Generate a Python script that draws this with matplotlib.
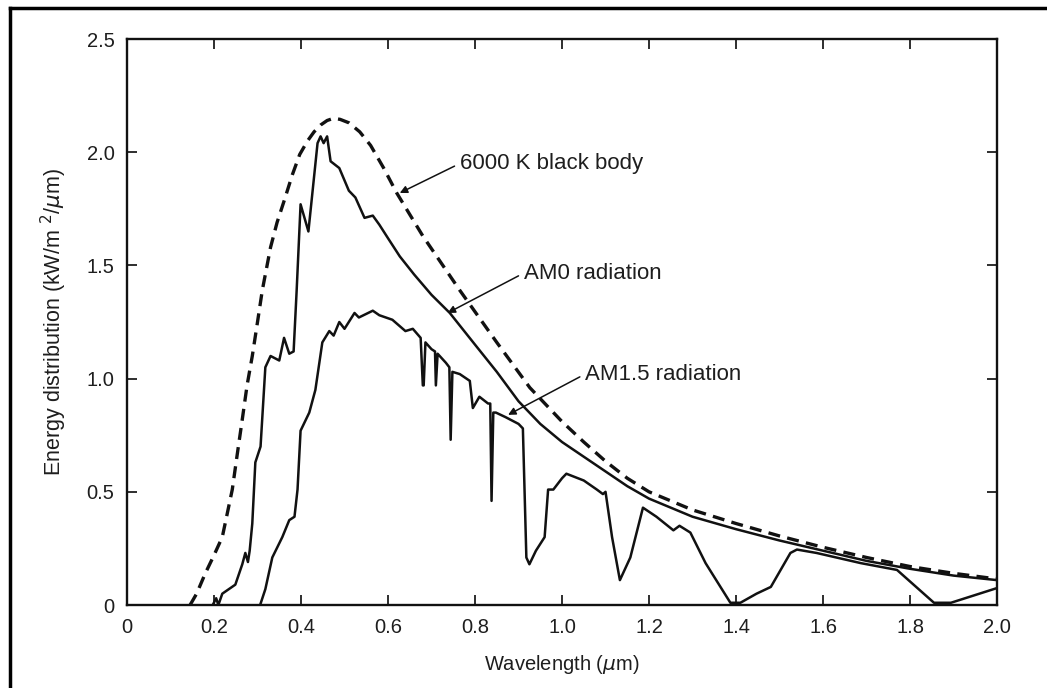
import matplotlib.pyplot as plt
from matplotlib.lines import Line2D

plt.rcParams['font.family'] = ['Liberation Sans', 'DejaVu Sans']

# 6000 K black body curve (kW/m^2/um)
bb_wl = [0.145, 0.16, 0.18, 0.20, 0.219, 0.23, 0.242, 0.253, 0.265, 0.276, 0.288,
         0.30, 0.311, 0.33, 0.345, 0.362, 0.38, 0.397, 0.415, 0.43, 0.445, 0.46,
         0.475, 0.49, 0.51, 0.535, 0.56, 0.59, 0.62, 0.68, 0.765, 0.85,
         0.926, 1.0, 1.05, 1.1, 1.15, 1.2, 1.3, 1.4, 1.5, 1.6, 1.7, 1.8, 1.9, 2.0]
bb_val = [0.0, 0.05, 0.14, 0.22, 0.30, 0.40, 0.51, 0.66, 0.82, 0.97, 1.10,
          1.25, 1.39, 1.58, 1.69, 1.79, 1.90, 1.99, 2.05, 2.09, 2.12, 2.14,
          2.15, 2.145, 2.13, 2.09, 2.03, 1.93, 1.82, 1.63, 1.39, 1.16,
          0.96, 0.81, 0.72, 0.635, 0.56, 0.50, 0.42, 0.36, 0.305, 0.255, 0.21, 0.17, 0.14, 0.115]

# extraterrestrial (AM0) spectrum
am0_wl = [0.197, 0.205, 0.21, 0.219, 0.249, 0.265, 0.272, 0.278, 0.282, 0.288,
          0.295, 0.307, 0.318, 0.33, 0.35, 0.361, 0.373, 0.383, 0.39, 0.399,
          0.417, 0.438, 0.445, 0.452, 0.46, 0.468, 0.488, 0.51, 0.525, 0.546,
          0.565, 0.58, 0.60, 0.627, 0.66, 0.70, 0.742, 0.80, 0.85, 0.90, 0.95,
          1.0, 1.05, 1.1, 1.15, 1.2, 1.3, 1.4, 1.5, 1.6, 1.7, 1.8, 1.9, 2.0]
am0_val = [0.0, 0.03, 0.0, 0.05, 0.09, 0.18, 0.23, 0.19, 0.24, 0.36,
           0.63, 0.70, 1.05, 1.10, 1.08, 1.18, 1.11, 1.12, 1.39, 1.77,
           1.65, 2.04, 2.07, 2.04, 2.07, 1.96, 1.93, 1.83, 1.80, 1.71,
           1.72, 1.68, 1.62, 1.54, 1.46, 1.37, 1.29, 1.15, 1.03, 0.90, 0.80,
           0.72, 0.655, 0.59, 0.525, 0.47, 0.39, 0.335, 0.285, 0.24, 0.195, 0.16, 0.13, 0.11]

# sea-level (AM1.5) spectrum with absorption bands
am15_wl = [0.306, 0.318, 0.334, 0.357, 0.373, 0.385, 0.392, 0.399, 0.419, 0.433,
           0.449, 0.465, 0.475, 0.488, 0.50, 0.523, 0.533, 0.565, 0.58, 0.61,
           0.64, 0.657, 0.675, 0.680, 0.682, 0.686, 0.70, 0.708, 0.71, 0.714,
           0.733, 0.741, 0.744, 0.748, 0.765, 0.788, 0.795, 0.81, 0.83, 0.835,
           0.838, 0.842, 0.848, 0.87, 0.90, 0.91, 0.918, 0.925, 0.94, 0.96,
           0.968, 0.98, 1.0, 1.01, 1.05, 1.08, 1.094, 1.10, 1.115, 1.133,
           1.157, 1.186, 1.217, 1.256, 1.27, 1.295, 1.33, 1.387, 1.41, 1.447,
           1.48, 1.525, 1.54, 1.585, 1.687, 1.77, 1.855, 1.894, 2.0]
am15_val = [0.0, 0.07, 0.21, 0.30, 0.375, 0.39, 0.51, 0.77, 0.85, 0.95,
            1.16, 1.21, 1.19, 1.25, 1.22, 1.29, 1.27, 1.30, 1.28, 1.26,
            1.21, 1.22, 1.18, 0.97, 0.97, 1.16, 1.13, 1.12, 0.97, 1.11,
            1.07, 1.05, 0.73, 1.03, 1.02, 0.99, 0.87, 0.92, 0.89, 0.89,
            0.46, 0.85, 0.85, 0.83, 0.80, 0.78, 0.21, 0.18, 0.24, 0.30,
            0.51, 0.51, 0.56, 0.58, 0.55, 0.51, 0.49, 0.50, 0.30, 0.11,
            0.21, 0.43, 0.39, 0.33, 0.35, 0.32, 0.185, 0.01, 0.01, 0.05,
            0.08, 0.23, 0.245, 0.23, 0.185, 0.155, 0.01, 0.01, 0.075]

x_ticks = [0, 0.2, 0.4, 0.6, 0.8, 1.0, 1.2, 1.4, 1.6, 1.8, 2.0]
x_labels = ['0', '0.2', '0.4', '0.6', '0.8', '1.0', '1.2', '1.4', '1.6', '1.8', '2.0']
y_ticks = [0, 0.5, 1.0, 1.5, 2.0, 2.5]
y_labels = ['0', '0.5', '1.0', '1.5', '2.0', '2.5']

ink = '#111111'
text_ink = '#1e1e1e'

fig = plt.figure(figsize=(10.47, 6.88), dpi=100)
ax = fig.add_axes([0.1213, 0.1206, 0.8310, 0.8227])

ax.plot(bb_wl, bb_val, color=ink, lw=2.4, dashes=(3.6, 2.2))
ax.plot(am0_wl, am0_val, color=ink, lw=1.8)
ax.plot(am15_wl, am15_val, color=ink, lw=1.8)

ax.set_xlim(0, 2.0)
ax.set_ylim(0, 2.5)
ax.set_xticks(x_ticks)
ax.set_xticklabels(x_labels)
ax.set_yticks(y_ticks)
ax.set_yticklabels(y_labels)
ax.tick_params(direction='in', length=7, width=1.3, top=True, right=True,
               labelsize=14.5, colors=text_ink, pad=9)
for s in ax.spines.values():
    s.set_linewidth(1.7)
    s.set_color(ink)

ax.set_xlabel('Wavelength ($\\mu$m)', fontsize=14.5, labelpad=12, color=text_ink)
ax.set_ylabel('Energy distribution (kW/m $^2$/$\\mu$m)', fontsize=15.5,
              labelpad=13, color=text_ink)

arrow = dict(arrowstyle='-|>', lw=1.1, color=ink, mutation_scale=11,
             shrinkA=2, shrinkB=0, relpos=(0, 0.5))
ax.annotate('6000 K black body', xy=(0.627, 1.82), xytext=(0.765, 1.95),
            fontsize=16, va='center', ha='left', arrowprops=arrow, color=text_ink)
ax.annotate('AM0 radiation', xy=(0.737, 1.29), xytext=(0.912, 1.466),
            fontsize=16, va='center', ha='left', arrowprops=arrow, color=text_ink)
ax.annotate('AM1.5 radiation', xy=(0.876, 0.84), xytext=(1.053, 1.02),
            fontsize=16, va='center', ha='left', arrowprops=arrow, color=text_ink)

# frame around the figure (top and left edges)
fig.add_artist(Line2D([0.0095, 0.0095], [0.0, 0.988], transform=fig.transFigure,
                      color='black', lw=2.5))
fig.add_artist(Line2D([0.0095, 1.0], [0.988, 0.988], transform=fig.transFigure,
                      color='black', lw=2.5))

fig.savefig('out.png', dpi=100)
